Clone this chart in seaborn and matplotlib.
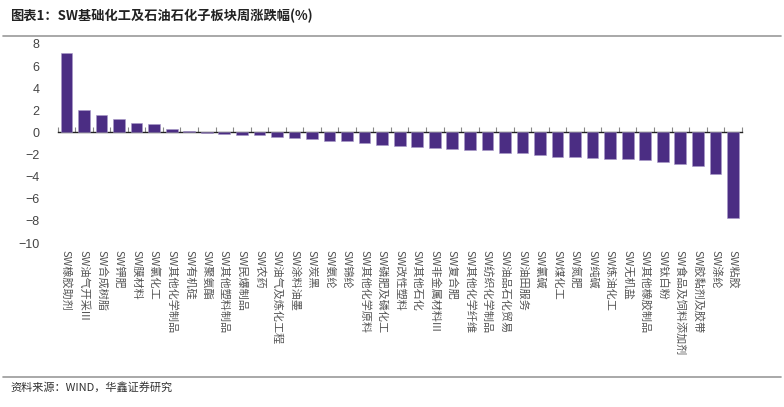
import matplotlib
matplotlib.use("Agg")
import matplotlib.pyplot as plt
import seaborn as sns
import pandas as pd
import numpy as np
from matplotlib.lines import Line2D

categories = ["SW橡胶助剂", "SW油气开采III", "SW合成树脂", "SW钾肥", "SW膜材料", "SW氯化工",
              "SW其他化学制品", "SW有机硅", "SW聚氨酯", "SW其他塑料制品", "SW民爆制品", "SW农药",
              "SW油气及炼化工程", "SW涂料油墨", "SW炭黑", "SW氨纶", "SW锦纶", "SW其他化学原料",
              "SW磷肥及磷化工", "SW改性塑料", "SW其他石化", "SW非金属材料III", "SW复合肥",
              "SW其他化学纤维", "SW纺织化学制品", "SW油品石化贸易", "SW油田服务", "SW氯碱",
              "SW煤化工", "SW氮肥", "SW纯碱", "SW炼油化工", "SW无机盐", "SW其他橡胶制品",
              "SW钛白粉", "SW食品及饲料添加剂", "SW胶黏剂及胶带", "SW涤纶", "SW粘胶"]
values = [7.15, 2.04, 1.57, 1.23, 0.81, 0.72, 0.33, 0.13, -0.08, -0.12, -0.27, -0.23,
          -0.45, -0.48, -0.6, -0.8, -0.8, -0.95, -1.17, -1.26, -1.35, -1.38, -1.47,
          -1.56, -1.59, -1.83, -1.89, -2.04, -2.2, -2.25, -2.3, -2.37, -2.37, -2.52,
          -2.7, -2.85, -3.0, -3.73, -7.72]
yticks = [8, 6, 4, 2, 0, -2, -4, -6, -8, -10]

title = "图表1：SW基础化工及石油石化子板块周涨跌幅(%)"
source = "资料来源：WIND，华鑫证券研究"

sns.set_theme(style="white")
plt.rcParams['font.family'] = ['Noto Sans CJK SC', 'DejaVu Sans']
plt.rcParams['axes.unicode_minus'] = True

df = pd.DataFrame({"cat": categories, "val": values})

fig = plt.figure(figsize=(7.84, 4.07), dpi=100)
ax = fig.add_axes([57.7 / 784, 1 - 243 / 407, (741.7 - 57.7) / 784, (243 - 44) / 407])

sns.barplot(data=df, x="cat", y="val", color="#4B2D83", saturation=1, width=0.67,
            edgecolor="#A899C8", linewidth=0.4, ax=ax)

ax.set_ylim(-10, 8)
ax.set_xlim(-0.5, len(categories) - 0.5)
ax.set_yticks(yticks)
ax.set_yticklabels([str(v).replace("-", "\u2212") for v in yticks],
                   family=['Liberation Sans', 'DejaVu Sans'], fontsize=9, color="#444444")
ax.tick_params(axis='y', length=0, pad=13)
ax.set_xlabel("")
ax.set_ylabel("")
ax.set_xticks(range(len(categories)))
ax.set_xticklabels(categories, rotation=-90, fontsize=8, color="#555555", va="top", ha="center")
ax.tick_params(axis='x', length=0, pad=5)
for s in ax.spines.values():
    s.set_visible(False)

# zero axis line with boundary tick marks
zero_frac = (0 - (-10)) / 18
sec = ax.secondary_xaxis(zero_frac)
sec.set_xticks(np.arange(len(categories) + 1) - 0.5)
sec.set_xticklabels([])
sec.tick_params(axis='x', direction='out', length=3.5, width=0.8, color="#888888")
for k, s in sec.spines.items():
    s.set_visible(k == 'bottom')
sec.spines['bottom'].set_color("#222222")
sec.spines['bottom'].set_linewidth(1.0)

fig.text(10 / 784, 1 - 16 / 407, title, fontsize=9.5, fontweight="bold", color="#222222",
         va="center", ha="left")
fig.text(10 / 784, 1 - 387 / 407, source, fontsize=8, color="#333333", va="center", ha="left")
fig.add_artist(Line2D([3 / 784, 781 / 784], [1 - 36 / 407, 1 - 36 / 407],
                      color="#999999", linewidth=1.2, transform=fig.transFigure))
fig.add_artist(Line2D([3 / 784, 781 / 784], [1 - 377 / 407, 1 - 377 / 407],
                      color="#999999", linewidth=1.2, transform=fig.transFigure))

fig.savefig("out.png", dpi=100)
